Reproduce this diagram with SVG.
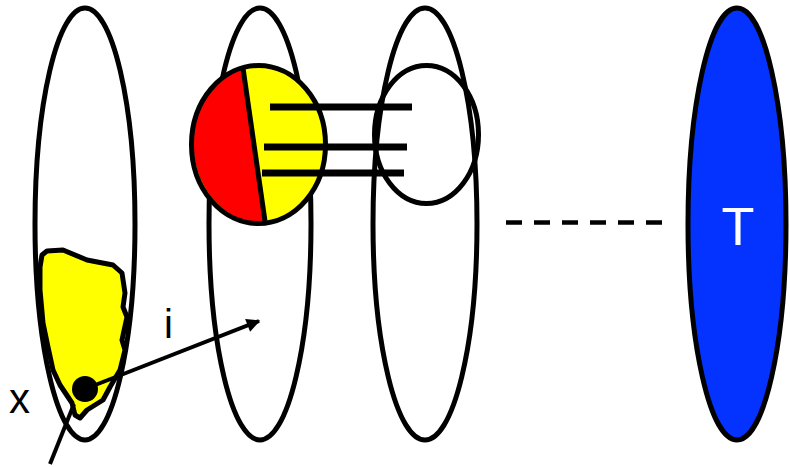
<svg xmlns="http://www.w3.org/2000/svg" width="790" height="467" viewBox="0 0 790 467">
<style>
.ring{fill:none;stroke:#000;stroke-width:5}
.conn{stroke:#000;fill:none}
.lbl{font-family:"Liberation Sans",Arial,sans-serif;fill:#000}
</style>
<defs>
<marker id="ah" viewBox="0 0 10 10" refX="9" refY="5" markerWidth="4.2" markerHeight="3.4" orient="auto" markerUnits="strokeWidth">
<path d="M0,0 L10,5 L0,10 z" fill="#000"/>
</marker>
</defs>
<rect width="790" height="467" fill="#fff"/>
<g id="set1">
<ellipse class="ring" cx="85" cy="224" rx="50" ry="216"/>
<path d="M42,255 L47,251 L63,250 L87,260 L113,265 L122,273 L125,293 L123,307 L127,317 L122,340 L125,350 L120,370 L110,387 L103,400 L87,410 L80,418 L75,415 L72,403 L60,385 L53,370 L48,347 L43,323 L40,290 L40,267 Z" fill="#ff0" stroke="#000" stroke-width="5" stroke-linejoin="round"/>
<circle cx="85" cy="389" r="13" fill="#000"/>
</g>
<g id="set2">
<ellipse class="ring" cx="260" cy="224" rx="51" ry="216"/>
</g>
<g id="set3">
<ellipse class="ring" cx="425" cy="224" rx="52" ry="216"/>
</g>
<g id="split">
<ellipse cx="258.5" cy="144.5" rx="67" ry="79" fill="#ff0"/>
<path d="M243,67 L266,222 A67,79 0 0 1 243,67 Z" fill="#f00"/>
<ellipse class="ring" cx="258.5" cy="144.5" rx="67" ry="79"/>
<line x1="243" y1="68" x2="265" y2="221" stroke="#000" stroke-width="5"/>
</g>
<g id="small">
<ellipse class="ring" cx="426.5" cy="134.5" rx="52" ry="69"/>
</g>
<g id="setT">
<ellipse cx="737" cy="224" rx="49" ry="216" fill="#0433ff" stroke="#000" stroke-width="5"/>
<text x="738" y="245" text-anchor="middle" font-family="Liberation Sans,Arial,sans-serif" font-size="54" fill="#fff">T</text>
</g>
<g id="connectors">
<line class="conn" x1="270" y1="107" x2="412" y2="107" stroke-width="7"/>
<line class="conn" x1="264" y1="147" x2="407" y2="147" stroke-width="7"/>
<line class="conn" x1="262" y1="173" x2="404" y2="173" stroke-width="7"/>
<line class="conn" x1="506" y1="222.5" x2="662" y2="222.5" stroke-width="4.5" stroke-dasharray="16 12"/>
<line class="conn" x1="85" y1="389" x2="259" y2="321" stroke-width="4" marker-end="url(#ah)"/>
<line class="conn" x1="50" y1="464" x2="74" y2="404" stroke-width="4"/>
</g>
<text class="lbl" x="164" y="338" font-size="40">i</text>
<text class="lbl" x="9" y="413" font-size="42">x</text>
</svg>
